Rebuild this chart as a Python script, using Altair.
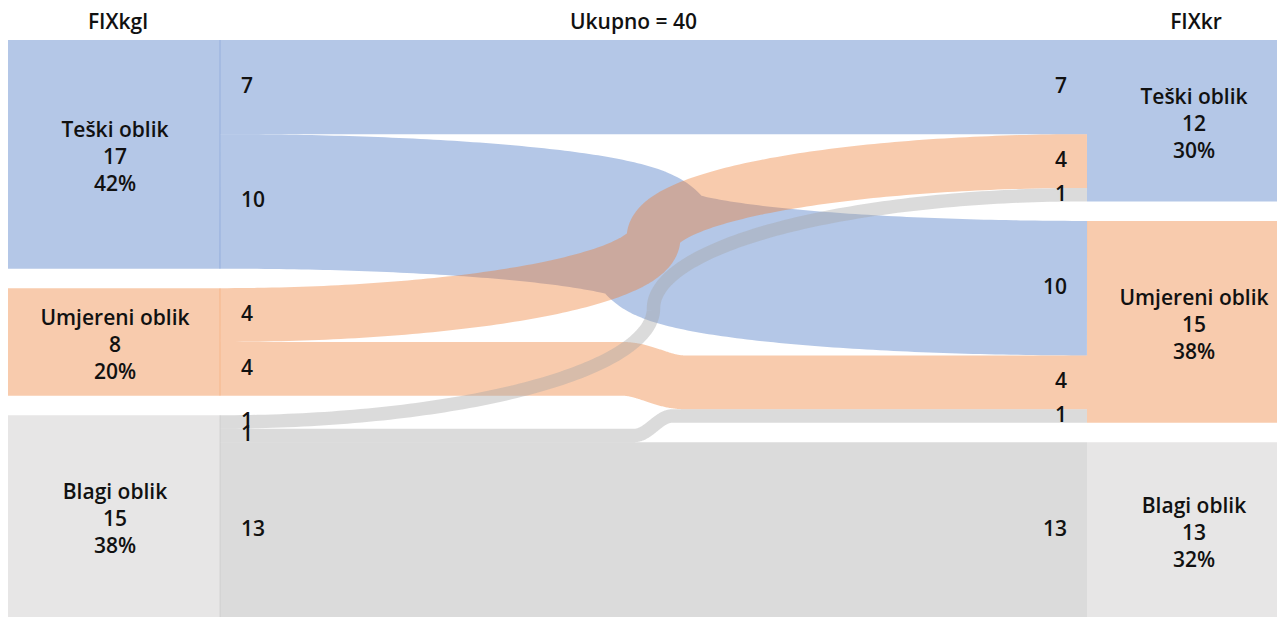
import math
import altair as alt
import pandas as pd

# ---------------- data ----------------
nodes = ["Teški oblik", "Umjereni oblik", "Blagi oblik"]
left_values = [17, 8, 15]
right_values = [12, 15, 13]
flow_src = [0, 0, 1, 1, 2, 2, 2]
flow_dst = [0, 1, 0, 1, 0, 1, 2]
flow_val = [7, 10, 4, 4, 1, 1, 13]
column_titles = ["FIXkgl", "FIXkr"]
total_word = "Ukupno"

link_colors = ["#4472C4", "#ED7D31", "#A5A5A5"]
node_colors = ["#B4C7E7", "#F8CBAD", "#E7E6E6"]

# ---------------- layout ----------------
PPU = 13.45         # pixels per unit
GAP = 1.45          # gap between nodes (units)
W, H = 1269, 609
TOP = 32
X0, X1 = 212, 1079  # flow region (stage px)
RX1 = 1293
XM = (X0 + X1) / 2
HALF = (X1 - X0) / 2
N = 90
FONT = "Open Sans"
FS = 21
LH = 27


def stack(values):
    starts, acc = [], 0.0
    for v in values:
        starts.append(acc)
        acc += v + GAP
    return starts


L0 = stack(left_values)
R0 = stack(right_values)
n = len(flow_val)

ys0 = [0.0] * n
yt0 = [0.0] * n
off = list(L0)
for k in sorted(range(n), key=lambda k: (flow_src[k], flow_dst[k])):
    ys0[k] = off[flow_src[k]]
    off[flow_src[k]] += flow_val[k]
off = list(R0)
for k in sorted(range(n), key=lambda k: (flow_dst[k], flow_src[k])):
    yt0[k] = off[flow_dst[k]]
    off[flow_dst[k]] += flow_val[k]

rows = []
for k in range(n):
    v = flow_val[k]
    a_c = ys0[k] + v / 2
    b_c = yt0[k] + v / 2
    pts = [(X0, a_c)]
    half_px = abs(b_c - a_c) / 2 * PPU
    if half_px >= 30:
        # two quarter-ellipse arcs meeting vertically in the middle
        ym = (a_c + b_c) / 2
        for i in range(1, N + 1):
            th = math.pi / 2 * i / N
            pts.append((X0 + HALF * math.sin(th), a_c + (ym - a_c) * (1 - math.cos(th))))
        for i in range(1, N):
            th = math.pi / 2 * i / N
            pts.append((XM + HALF * (1 - math.cos(th)), ym + (b_c - ym) * math.sin(th)))
    elif half_px > 0:
        # gentle step in the middle
        w = 30 + 0.6 * v * PPU
        for i in range(N + 1):
            s = i / N
            pts.append((XM - w / 2 + w * s, a_c + (b_c - a_c) * (1 - math.cos(math.pi * s)) / 2))
    pts.append((X1, b_c))
    for idx, (px, py) in enumerate(pts):
        rows.append({"link": k, "src": nodes[flow_src[k]], "value": v,
                     "x": px, "y": py, "ord": idx})
links_df = pd.DataFrame(rows)

node_rows = []
for i, name in enumerate(nodes):
    node_rows.append({"node": name, "x": 0, "x2": X0, "y": L0[i], "y2": L0[i] + left_values[i]})
    node_rows.append({"node": name, "x": X1, "x2": RX1, "y": R0[i], "y2": R0[i] + right_values[i]})
nodes_df = pd.DataFrame(node_rows)
edge_df = pd.DataFrame([{"node": nodes[i], "x": X0, "y": L0[i], "y2": L0[i] + left_values[i]}
                        for i in range(len(nodes))])

total = sum(flow_val)
label_rows = []
for i, name in enumerate(nodes):
    label_rows.append({"x": X0 / 2 + 1, "y": L0[i] + left_values[i] / 2,
                       "t": f"{name}\n{left_values[i]}\n{round(100 * left_values[i] / total)}%"})
    label_rows.append({"x": (X1 + RX1) / 2, "y": R0[i] + right_values[i] / 2,
                       "t": f"{name}\n{right_values[i]}\n{round(100 * right_values[i] / total)}%"})
labels_df = pd.DataFrame(label_rows)

ty = (15 - TOP) / PPU
titles_df = pd.DataFrame([
    {"x": X0 / 2 + 4, "y": ty, "t": column_titles[0]},
    {"x": XM - 20, "y": ty, "t": f"{total_word} = {total}"},
    {"x": (X1 + RX1) / 2 + 2, "y": ty, "t": column_titles[1]},
])

lv_left = pd.DataFrame([{"x": X0 + 21, "y": ys0[k] + flow_val[k] / 2, "t": str(flow_val[k])} for k in range(n)])
lv_right = pd.DataFrame([{"x": X1 - 20, "y": yt0[k] + flow_val[k] / 2, "t": str(flow_val[k])} for k in range(n)])

# ---------------- scales ----------------
xs = alt.Scale(domain=[0, W], nice=False, zero=False)
ysc = alt.Scale(domain=[-TOP / PPU, (H - TOP) / PPU], reverse=True, nice=False, zero=False)
X = lambda f="x": alt.X(f"{f}:Q", scale=xs, axis=None)
Y = lambda f="y": alt.Y(f"{f}:Q", scale=ysc, axis=None)

node_layer = alt.Chart(nodes_df).mark_rect(clip=True).encode(
    x=X("x"), x2="x2", y=Y("y"), y2="y2",
    color=alt.Color("node:N", scale=alt.Scale(domain=nodes, range=node_colors), legend=None),
)
edge_layer = alt.Chart(edge_df).mark_rule(strokeWidth=1.5, opacity=0.18).encode(
    x=X("x"), y=Y("y"), y2="y2",
    color=alt.Color("node:N", scale=alt.Scale(domain=nodes, range=link_colors), legend=None),
)

link_layers = []
for i, name in enumerate(nodes):
    sub = links_df[links_df["src"] == name]
    link_layers.append(
        alt.Chart(sub).mark_line(opacity=0.4, strokeCap="butt", strokeJoin="round", interpolate="linear").encode(
            x=X("x"), y=Y("y"),
            detail="link:N",
            order="ord:Q",
            color=alt.Color("src:N", scale=alt.Scale(domain=nodes, range=link_colors), legend=None),
            size=alt.Size("value:Q", scale=alt.Scale(domain=[0, 40], range=[0, 40 * PPU]), legend=None),
        )
    )

text_common = dict(font=FONT, fontSize=FS, fontWeight=600, color="#111111")
node_text = alt.Chart(labels_df).mark_text(align="center", baseline="middle", lineBreak="\n",
                                           lineHeight=LH, dy=-23, **text_common).encode(
    x=X("x"), y=Y("y"), text="t:N")
title_text = alt.Chart(titles_df).mark_text(align="center", baseline="middle", **text_common).encode(
    x=X("x"), y=Y("y"), text="t:N")
left_text = alt.Chart(lv_left).mark_text(align="left", baseline="middle", **text_common).encode(
    x=X("x"), y=Y("y"), text="t:N")
right_text = alt.Chart(lv_right).mark_text(align="right", baseline="middle", **text_common).encode(
    x=X("x"), y=Y("y"), text="t:N")

chart = alt.layer(node_layer, edge_layer, *link_layers, node_text, title_text, left_text, right_text).properties(
    width=W, height=H, padding=0, autosize="none"
).resolve_scale(color="independent").configure_view(stroke=None)

chart.save("out.html", embed_options={"renderer": "svg", "actions": False})
